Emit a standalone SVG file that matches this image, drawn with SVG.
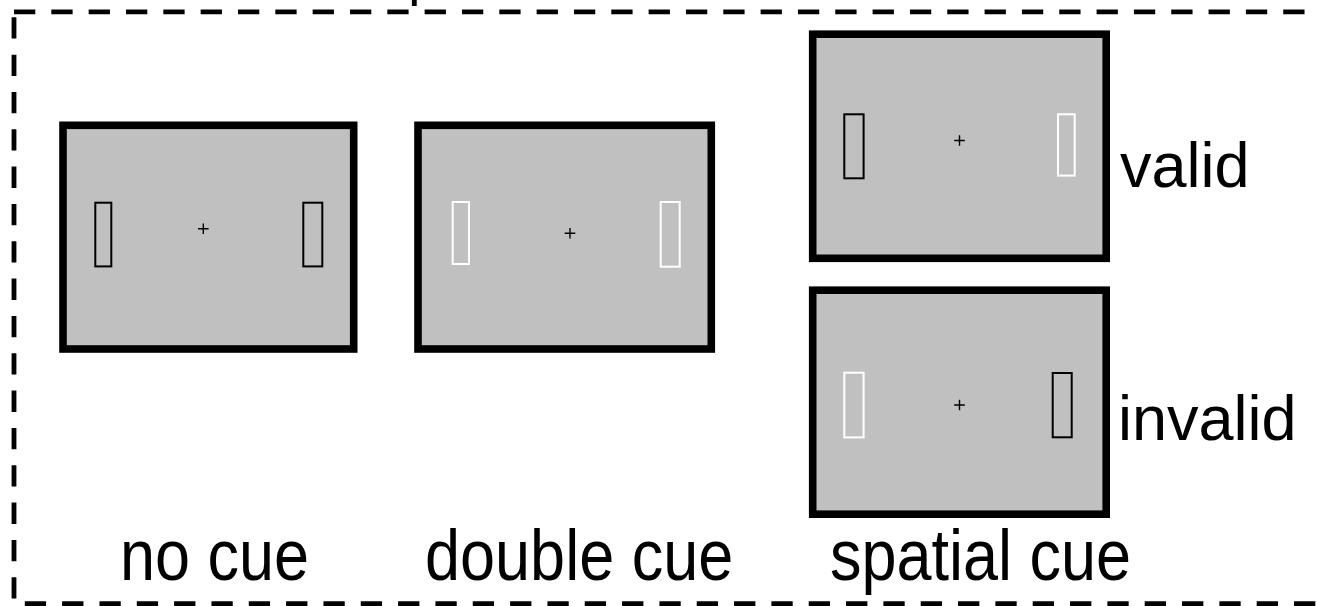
<svg xmlns="http://www.w3.org/2000/svg" width="1317" height="606" viewBox="0 0 1317 606">
<style>
.frame{fill:none;stroke:#000;stroke-width:4.8;stroke-dasharray:21.3 16.03}
.screen{fill:#c0c0c0;stroke:#000;stroke-width:7.6}
.bk{fill:none;stroke:#000;stroke-width:2}
.wh{fill:none;stroke:#fff;stroke-width:2}
.fix{stroke:#000;stroke-width:1.4;fill:none}
.lbl{font-family:"Liberation Sans",Arial,sans-serif;font-size:63px;fill:#000}
</style>
<rect width="1317" height="606" fill="#fff"/>
<g id="frame">
<line class="frame" x1="14" y1="11.8" x2="1330" y2="11.8"/>
<line class="frame" x1="14" y1="17.3" x2="14" y2="606"/>
<line class="frame" x1="24.8" y1="603.6" x2="1330" y2="603.6"/>
</g>
<g id="connectors">
<line x1="414.3" y1="0" x2="414.3" y2="6" stroke="#000" stroke-width="4.8"/>
</g>
<g id="no-cue">
<rect class="screen" x="63" y="125.3" width="290.7" height="223.7"/>
<rect class="bk" x="95.3" y="202.7" width="16" height="63.7"/>
<rect class="bk" x="303.3" y="202.7" width="19" height="63.7"/>
<path class="fix" d="M198 228.7h10.6M203.3 223.4v10.6"/>
<text class="lbl" transform="translate(120,580) scale(1,1.14)">no cue</text>
</g>
<g id="double-cue">
<rect class="screen" x="418" y="125.3" width="293.3" height="223.7"/>
<rect class="wh" x="452.7" y="202" width="16.3" height="62"/>
<rect class="wh" x="660.7" y="202" width="19" height="64.7"/>
<path class="fix" d="M564.7 233.3h10.6M570 228v10.6"/>
<text class="lbl" transform="translate(425,580) scale(1,1.14)">double cue</text>
</g>
<g id="spatial-valid">
<rect class="screen" x="812.7" y="34.2" width="293.5" height="224.1"/>
<rect class="bk" x="844.3" y="114.3" width="19.3" height="64"/>
<rect class="wh" x="1058" y="114.3" width="16.7" height="61.3"/>
<path class="fix" d="M954.2 140.5h10.6M959.5 135.2v10.6"/>
<text class="lbl" x="1120" y="187">valid</text>
</g>
<g id="spatial-invalid">
<rect class="screen" x="812.7" y="290.2" width="293.5" height="224"/>
<rect class="wh" x="844.3" y="372.7" width="19.3" height="64.7"/>
<rect class="bk" x="1052.7" y="373" width="19" height="64.3"/>
<path class="fix" d="M954.2 405h10.6M959.5 399.7v10.6"/>
<text class="lbl" x="1118" y="440">invalid</text>
</g>
<g id="spatial-label">
<text class="lbl" transform="translate(830,580) scale(1,1.14)">spatial cue</text>
</g>
</svg>
